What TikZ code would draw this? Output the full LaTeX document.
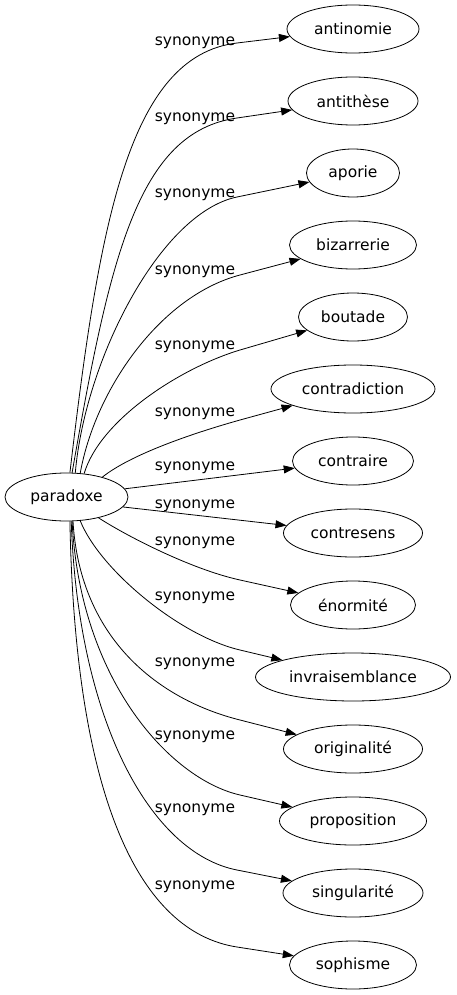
\documentclass[tikz,border=0pt]{standalone}
\usepackage{fontspec}
\setmainfont{DejaVu Sans}
\usetikzlibrary{arrows.meta,shapes.geometric}

\tikzset{
  syn/.style={-{Triangle[length=11pt,width=8pt]}, line width=0.8pt},
  mot/.style={draw, ellipse, inner sep=0pt, minimum height=48pt, line width=0.8pt, font=\fontsize{15.5}{18}\selectfont},
  lab/.style={anchor=base, inner sep=0pt, font=\fontsize{15.5}{18}\selectfont}
}

\begin{document}
\begin{tikzpicture}[x=1pt, y=-1pt]
\useasboundingbox (0,0) rectangle (457,995);

\node[mot, minimum width=123pt] (paradoxe) at (66.5,497) {paradoxe};

\node[mot, minimum width=132pt] (antinomie) at (353,29) {antinomie};
\node[mot, minimum width=130pt] (antithese) at (353,101) {antithèse};
\node[mot, minimum width=93pt] (aporie) at (353,173) {aporie};
\node[mot, minimum width=127pt] (bizarrerie) at (353,245) {bizarrerie};
\node[mot, minimum width=109pt] (boutade) at (353,317) {boutade};
\node[mot, minimum width=164pt] (contradiction) at (353,389) {contradiction};
\node[mot, minimum width=121pt] (contraire) at (353,461) {contraire};
\node[mot, minimum width=139pt] (contresens) at (353,533) {contresens};
\node[mot, minimum width=125pt] (enormite) at (353,605) {énormité};
\node[mot, minimum width=195pt] (invraisemblance) at (353,677) {invraisemblance};
\node[mot, minimum width=139pt] (originalite) at (353,749) {originalité};
\node[mot, minimum width=147pt] (proposition) at (353,821) {proposition};
\node[mot, minimum width=140pt] (singularite) at (353,893) {singularité};
\node[mot, minimum width=127pt] (sophisme) at (353,965) {sophisme};

\node[lab] (l-antinomie) at (195,45.5) {synonyme};
\node[lab] (l-antithese) at (195,121.5) {synonyme};
\node[lab] (l-aporie) at (195,197.5) {synonyme};
\node[lab] (l-bizarrerie) at (195,274.5) {synonyme};
\node[lab] (l-boutade) at (195,349.5) {synonyme};
\node[lab] (l-contradiction) at (195,416.5) {synonyme};
\node[lab] (l-contraire) at (195,470.5) {synonyme};
\node[lab] (l-contresens) at (195,508.5) {synonyme};
\node[lab] (l-enormite) at (195,545) {synonyme};
\node[lab] (l-invraisemblance) at (195,600.5) {synonyme};
\node[lab] (l-originalite) at (195,666.5) {synonyme};
\node[lab] (l-proposition) at (195,739.5) {synonyme};
\node[lab] (l-singularite) at (195,812.5) {synonyme};
\node[lab] (l-sophisme) at (195,889.5) {synonyme};

\draw[syn] (paradoxe.82) .. controls (99,225) and (128,56) .. (237,43) -- (antinomie);
\draw[syn] (paradoxe.77) .. controls (110,256) and (138,132) .. (237,118) -- (antithese);
\draw[syn] (paradoxe.70) .. controls (85,360) and (160,213) .. (237,197) -- (aporie);
\draw[syn] (paradoxe.60) .. controls (95,390) and (160,296) .. (240,275) -- (bizarrerie);
\draw[syn] (paradoxe.53) .. controls (100,420) and (180,368) .. (240,350) -- (boutade);
\draw[syn] (paradoxe.29) .. controls (130,455) and (190,434) .. (240,420) -- (contradiction);
\draw[syn] (paradoxe.8) -- (contraire);
\draw[syn] (paradoxe.-10.5) -- (contresens);
\draw[syn] (paradoxe.-33) .. controls (125,535) and (190,569) .. (240,580) -- (enormite);
\draw[syn] (paradoxe.-60) .. controls (100,570) and (180,636) .. (240,650) -- (invraisemblance);
\draw[syn] (paradoxe.-75) .. controls (80,640) and (160,700) .. (240,720) -- (originalite);
\draw[syn] (paradoxe.-77) .. controls (80,680) and (170,779) .. (240,795) -- (proposition);
\draw[syn] (paradoxe.-79) .. controls (78,720) and (150,853) .. (237,870) -- (singularite);
\draw[syn] (paradoxe.-82) .. controls (75,800) and (140,932) .. (237,947) -- (sophisme);
%\draw (current bounding box.south west) rectangle (current bounding box.north east);
\end{tikzpicture}
\end{document}
